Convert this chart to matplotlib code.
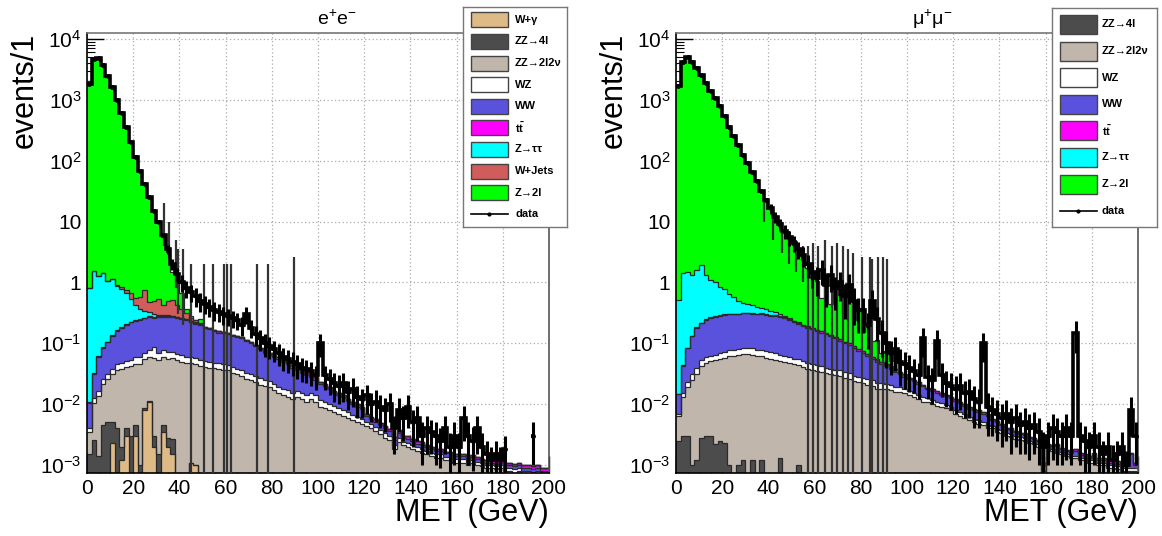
import numpy as np
import matplotlib
matplotlib.use("Agg")
import matplotlib.pyplot as plt
from matplotlib.patches import Rectangle
from matplotlib.ticker import FixedLocator, MultipleLocator, LogLocator, NullFormatter

plt.rcParams['font.family'] = ['Liberation Sans', 'DejaVu Sans']
plt.rcParams['mathtext.fontset'] = 'custom'
plt.rcParams['mathtext.rm'] = 'Liberation Sans'
plt.rcParams['mathtext.it'] = 'Liberation Sans:italic'
plt.rcParams['mathtext.bf'] = 'Liberation Sans:bold'

# 2 GeV bins from 0 to 200
edges = np.arange(0, 202, 2)

# ---------------- e+e- channel ----------------
ee_wg = [0, 0, 0, 0, 0, 0.0023, 0, 0.0012, 0.003, 0,
         0.003, 0, 0.008, 0.011, 0.002, 0, 0.0035, 0.002, 0.0015, 0,
         0, 0, 0.0011, 0.001, 0, 0, 0, 0, 0, 0,
         0, 0, 0, 0, 0, 0, 0, 0, 0, 0,
         0, 0, 0, 0, 0, 0, 0, 0, 0, 0,
         0, 0, 0, 0, 0, 0, 0, 0, 0, 0,
         0, 0, 0, 0, 0, 0, 0, 0, 0, 0,
         0, 0, 0, 0, 0, 0, 0, 0, 0, 0,
         0, 0, 0, 0, 0, 0, 0, 0, 0, 0,
         0, 0, 0, 0, 0, 0, 0, 0, 0, 0]
ee_zz4l = [0.0015, 0.0026, 0.0014, 0.0045, 0.005, 0.0027, 0.004, 0.0008, 0.001, 0.003,
           0.0015, 0.001, 0.0005, 0.0003, 0.001, 0.0015, 0.001, 0.0008, 0.0012, 0.0005,
           0.0003, 0.0002, 0, 0, 0, 0, 0, 0, 0, 0,
           0, 0, 0, 0, 0, 0, 0, 0, 0, 0,
           0, 0, 0, 0, 0, 0, 0, 0, 0, 0,
           0, 0, 0, 0, 0, 0, 0, 0, 0, 0,
           0, 0, 0, 0, 0, 0, 0, 0, 0, 0,
           0, 0, 0, 0, 0, 0, 0, 0, 0, 0,
           0, 0, 0, 0, 0, 0, 0, 0, 0, 0,
           0, 0, 0, 0, 0, 0, 0, 0, 0, 0]
ee_zz2l2v = [0.002, 0.008, 0.012, 0.017, 0.021, 0.026, 0.032, 0.036, 0.037, 0.039,
             0.042, 0.044, 0.046, 0.049, 0.054, 0.052, 0.055, 0.053, 0.054, 0.052,
             0.049, 0.047, 0.046, 0.044, 0.043, 0.041, 0.04, 0.039, 0.038, 0.037,
             0.036, 0.033, 0.031, 0.029, 0.026, 0.025, 0.023, 0.021, 0.02, 0.019,
             0.017, 0.015, 0.014, 0.013, 0.012, 0.013, 0.012, 0.011, 0.012, 0.011,
             0.009, 0.0085, 0.008, 0.0075, 0.007, 0.0065, 0.006, 0.0055, 0.005, 0.0047,
             0.0043, 0.004, 0.0036, 0.0032, 0.0028, 0.0026, 0.0018, 0.0024, 0.0021, 0.002,
             0.0018, 0.0017, 0.0016, 0.0015, 0.0014, 0.0013, 0.0013, 0.0012, 0.0012, 0.0011,
             0.0011, 0.0011, 0.001, 0.0011, 0.001, 0.00095, 0.0009, 0.0009, 0.00085, 0.0009,
             0.0008, 0.0008, 0.00075, 0.0008, 0.0007, 0.0007, 0.00065, 0.0007, 0.0006, 0.0006]
ee_wz = [0.0005, 0.002, 0.003, 0.004, 0.005, 0.007, 0.009, 0.01, 0.011, 0.012,
         0.013, 0.014, 0.015, 0.016, 0.03, 0.016, 0.017, 0.016, 0.016, 0.015,
         0.014, 0.013, 0.012, 0.012, 0.011, 0.01, 0.01, 0.009, 0.009, 0.008,
         0.008, 0.0075, 0.007, 0.007, 0.0065, 0.006, 0.006, 0.0055, 0.005, 0.005,
         0.0045, 0.0045, 0.004, 0.004, 0.0035, 0.0035, 0.0035, 0.003, 0.003, 0.003,
         0.0026, 0.0024, 0.0022, 0.002, 0.0018, 0.0016, 0.0014, 0.0012, 0.0011, 0.001,
         0.0008, 0.0007, 0.0006, 0.0005, 0.0005, 0.0004, 0.0003, 0.0004, 0.0003, 0.0003,
         0.0003, 0.00025, 0.00025, 0.0002, 0.0002, 0.0002, 0.0002, 0.00015, 0.00015, 0.00015,
         0.00015, 0.00015, 0.00012, 0.00012, 0.00012, 0.00012, 0.0001, 0.0001, 0.0001, 0.0001,
         0.0001, 0.0001, 0.0001, 0.0001, 0.0001, 0.0001, 0.0001, 0.0001, 0.0001, 0.0001]
ee_ww = [0.0065, 0.019, 0.044, 0.058, 0.073, 0.096, 0.117, 0.133, 0.151, 0.168,
         0.174, 0.181, 0.188, 0.194, 0.175, 0.2, 0.197, 0.2, 0.2, 0.192,
         0.186, 0.179, 0.161, 0.153, 0.146, 0.128, 0.12, 0.112, 0.103, 0.1,
         0.096, 0.09, 0.087, 0.084, 0.077, 0.069, 0.061, 0.0535, 0.045, 0.041,
         0.0385, 0.0355, 0.032, 0.028, 0.0245, 0.0195, 0.0175, 0.016, 0.013, 0.011,
         0.01, 0.009, 0.0074, 0.006, 0.0056, 0.005, 0.0038, 0.0035, 0.003, 0.0025,
         0.0012, 0.001, 0.0009, 0.0008, 0.0007, 0.0006, 0.0005, 0.0006, 0.0004, 0.0004,
         0.0004, 0.0003, 0.0003, 0.0003, 0.00025, 0.0002, 0.0002, 0.0002, 0.0002, 0.00015,
         0.00015, 0.00015, 0.00012, 0.00012, 0.00012, 0.0001, 0.0001, 0.0001, 0.0001, 0.0001,
         0.0001, 0.0001, 0.0001, 0.0001, 0.0001, 0.0001, 0.0001, 0.0001, 0.0001, 0.0001]
ee_tt = [0.0003, 0.0008, 0.0015, 0.002, 0.0025, 0.003, 0.0035, 0.004, 0.0045, 0.005,
         0.0055, 0.006, 0.0065, 0.007, 0.007, 0.0075, 0.008, 0.008, 0.008, 0.008,
         0.008, 0.008, 0.0078, 0.0076, 0.0074, 0.0072, 0.007, 0.0068, 0.0066, 0.0064,
         0.0062, 0.006, 0.0058, 0.0056, 0.0054, 0.0052, 0.005, 0.0048, 0.0046, 0.0044,
         0.0042, 0.004, 0.0038, 0.0036, 0.0034, 0.0032, 0.003, 0.0029, 0.0028, 0.0027,
         0.0015, 0.0014, 0.0013, 0.0012, 0.0011, 0.001, 0.0009, 0.0008, 0.0008, 0.0007,
         0.0006, 0.0005, 0.0005, 0.0004, 0.0004, 0.0003, 0.0003, 0.0003, 0.00025, 0.00025,
         0.0002, 0.0002, 0.0002, 0.00015, 0.00015, 0.00015, 0.0001, 0.0001, 0.0001, 0.0001,
         0.0001, 0.0001, 0.0001, 0.0001, 0.0001, 0.0001, 0.0001, 0.0001, 0.0001, 0.0001,
         0.0001, 0.0001, 0.0001, 0.0001, 0.0001, 0.0001, 0.0001, 0.0001, 0.0001, 0.0001]
ee_ztt = [0.8, 1.5, 1.2, 1.35, 0.95, 1.0, 0.7, 0.6, 0.45, 0.3,
          0.19, 0.12, 0.08, 0.045, 0.035, 0.015, 0.01, 0.008, 0.005, 0.004,
          0.003, 0.003, 0.002, 0.002, 0.0015, 0.001, 0.001, 0.0008, 0.0006, 0.0005,
          0.0003, 0.0003, 0.0002, 0.0002, 0, 0, 0, 0, 0, 0,
          0, 0, 0, 0, 0, 0, 0, 0, 0, 0,
          0, 0, 0, 0, 0, 0, 0, 0, 0, 0,
          0, 0, 0, 0, 0, 0, 0, 0, 0, 0,
          0, 0, 0, 0, 0, 0, 0, 0, 0, 0,
          0, 0, 0, 0, 0, 0, 0, 0, 0, 0,
          0, 0, 0, 0, 0, 0, 0, 0, 0, 0]
ee_wjets = [0, 0, 0, 0, 0, 0, 0.03, 0.06, 0.1, 0.15,
            0.12, 0.2, 0.4, 0.15, 0.2, 0.25, 0.14, 0.2, 0.22, 0.15,
            0.1, 0.06, 0.03, 0.02, 0.01, 0, 0, 0, 0, 0,
            0, 0, 0, 0, 0, 0, 0, 0, 0, 0,
            0, 0, 0, 0, 0, 0, 0, 0, 0, 0,
            0, 0, 0, 0, 0, 0, 0, 0, 0, 0,
            0, 0, 0, 0, 0, 0, 0, 0, 0, 0,
            0, 0, 0, 0, 0, 0, 0, 0, 0, 0,
            0, 0, 0, 0, 0, 0, 0, 0, 0, 0,
            0, 0, 0, 0, 0, 0, 0, 0, 0, 0]
ee_zll = [2000, 4500, 4800, 3600, 2400, 1600, 1000, 600, 355, 200,
          112, 66, 40, 24, 14.3, 8.9, 5.1, 2.7, 1.0, 0.6,
          0.3, 0.06, 0.02, 0, 0.03, 0, 0, 0, 0, 0,
          0, 0, 0, 0, 0, 0, 0, 0, 0, 0,
          0, 0, 0, 0, 0, 0, 0, 0, 0, 0,
          0, 0, 0, 0, 0, 0, 0, 0, 0, 0,
          0, 0, 0, 0, 0, 0, 0, 0, 0, 0,
          0, 0, 0, 0, 0, 0, 0, 0, 0, 0,
          0, 0, 0, 0, 0, 0, 0, 0, 0, 0,
          0, 0, 0, 0, 0, 0, 0, 0, 0, 0]
ee_data = [1800, 4600, 4900, 3700, 2450, 1620, 1010, 610, 360, 205,
           115, 68, 42, 25, 15, 10, 6, 3.5, 2.0, 1.4,
           1.0, 0.8, 0.7, 0.6, 0.5, 0.45, 0.4, 0.35, 0.33, 0.3,
           0.28, 0.26, 0.24, 0.2, 0.3, 0.18, 0.14, 0.12, 0.1, 0.09,
           0.08, 0.07, 0.06, 0.055, 0.05, 0.045, 0.04, 0.038, 0.035, 0.03,
           0.1, 0.03, 0.026, 0.022, 0.02, 0.022, 0.016, 0.018, 0.013, 0.012,
           0.014, 0.01, 0.011, 0.009, 0.008, 0.01, 0.004, 0.008, 0.006, 0.009,
           0.005, 0.006, 0.003, 0.004, 0.0035, 0.003, 0.0025, 0.004, 0.002, 0.003,
           0.002, 0.006, 0.003, 0.0025, 0.004, 0.002, 0.0015, 0.0012, 0.0015, 0.0012,
           0.0018, 0, 0, 0, 0, 0, 0.003, 0, 0, 0]
ee_data_err = [0, 0, 0, 0, 0, 0, 0, 0, 0, 0,
               0, 0, 0, 0, 0, 0, 0, 0.6, 0.4, 0.35,
               0.3, 0.25, 0.22, 0.2, 0.17, 0.15, 0.13, 0.12, 0.11, 0.1,
               0.09, 0.08, 0.075, 0.07, 0.09, 0.06, 0.05, 0.045, 0.04, 0.035,
               0.03, 0.028, 0.025, 0.023, 0.021, 0.019, 0.017, 0.016, 0.015, 0.013,
               0.04, 0.013, 0.012, 0.011, 0.01, 0.011, 0.008, 0.009, 0.007, 0.006,
               0.007, 0.005, 0.006, 0.005, 0.0045, 0.005, 0.0025, 0.0045, 0.0035, 0.005,
               0.003, 0.0035, 0.002, 0.0025, 0.002, 0.002, 0.0016, 0.0025, 0.0014, 0.002,
               0.0014, 0.0035, 0.002, 0.0017, 0.0025, 0.0014, 0.001, 0.0008, 0.001, 0.0008,
               0.0012, 0, 0, 0, 0, 0, 0.002, 0, 0, 0]
# large error bars of sparse data bins (MET, low, high)
ee_err_x = [33.5, 35.5, 38.5, 39.5, 41.5, 45, 50.5, 54.5, 59.5, 60.5, 62.5, 73.5, 78.5, 89.5]
ee_err_lo = [4, 2.5, 0.8, 0.3, 0.2, 1e-5, 1e-5, 1e-5, 1e-5, 1e-5, 1e-5, 1e-5, 1e-5, 1e-5]
ee_err_hi = [20, 10, 5, 3.5, 3.5, 2, 2, 2, 2, 2, 2, 2, 2, 2.6]

# ---------------- mu+mu- channel ----------------
mm_zz4l = [0.0025, 0.003, 0.003, 0.001, 0.0012, 0.0028, 0.003, 0.003, 0.0022, 0.0025,
           0.0023, 0.001, 0, 0.001, 0.0012, 0, 0.0012, 0, 0.0012, 0,
           0, 0, 0.0013, 0, 0, 0, 0.001, 0, 0, 0,
           0, 0, 0, 0, 0, 0, 0, 0, 0, 0,
           0, 0, 0, 0, 0, 0, 0, 0, 0, 0,
           0, 0, 0, 0, 0, 0, 0, 0, 0, 0,
           0, 0, 0, 0, 0, 0, 0, 0, 0, 0,
           0, 0, 0, 0, 0, 0, 0, 0, 0, 0,
           0, 0, 0, 0, 0, 0, 0, 0, 0, 0,
           0, 0, 0, 0, 0, 0, 0, 0, 0, 0]
mm_zz2l2v = [0.004, 0.01, 0.016, 0.024, 0.03, 0.04, 0.045, 0.048, 0.05, 0.052,
             0.055, 0.06, 0.062, 0.063, 0.065, 0.066, 0.064, 0.062, 0.06, 0.058,
             0.056, 0.054, 0.05, 0.049, 0.047, 0.045, 0.043, 0.041, 0.038, 0.036,
             0.035, 0.034, 0.032, 0.031, 0.03, 0.029, 0.027, 0.026, 0.024, 0.023,
             0.022, 0.021, 0.02, 0.018, 0.018, 0.018, 0.017, 0.016, 0.016, 0.015,
             0.014, 0.013, 0.012, 0.011, 0.011, 0.01, 0.0095, 0.009, 0.0085, 0.008,
             0.007, 0.0065, 0.006, 0.0055, 0.005, 0.0048, 0.0045, 0.004, 0.004, 0.0035,
             0.0033, 0.003, 0.0029, 0.0027, 0.0026, 0.0025, 0.0023, 0.0022, 0.002, 0.0007,
             0.0018, 0.0017, 0.0016, 0.0015, 0.0014, 0.0013, 0.0013, 0.0012, 0.0012, 0.0011,
             0.0011, 0.001, 0.001, 0.0009, 0.0009, 0.00085, 0.0008, 0.0008, 0.0008, 0.0008]
mm_wz = [0.0005, 0.002, 0.004, 0.006, 0.008, 0.01, 0.011, 0.012, 0.013, 0.014,
         0.015, 0.016, 0.017, 0.017, 0.018, 0.018, 0.017, 0.017, 0.016, 0.016,
         0.015, 0.014, 0.013, 0.013, 0.012, 0.011, 0.011, 0.01, 0.01, 0.009,
         0.009, 0.0085, 0.008, 0.0075, 0.007, 0.0068, 0.0065, 0.006, 0.0055, 0.005,
         0.005, 0.0045, 0.0045, 0.004, 0.004, 0.0038, 0.0035, 0.0033, 0.003, 0.003,
         0.0026, 0.0024, 0.0022, 0.002, 0.0018, 0.0016, 0.0014, 0.0013, 0.0012, 0.0011,
         0.001, 0.0009, 0.0008, 0.0007, 0.0006, 0.0006, 0.0005, 0.0005, 0.0004, 0.0004,
         0.0004, 0.0003, 0.0003, 0.0003, 0.00025, 0.00025, 0.0002, 0.0002, 0.0002, 0.0001,
         0.00015, 0.00015, 0.00015, 0.00012, 0.00012, 0.00012, 0.0001, 0.0001, 0.0001, 0.0001,
         0.0001, 0.0001, 0.0001, 0.0001, 0.0001, 0.0001, 0.0001, 0.0001, 0.0001, 0.0001]
mm_ww = [0.0075, 0.028, 0.06, 0.1, 0.142, 0.16, 0.184, 0.2, 0.207, 0.214,
         0.22, 0.224, 0.221, 0.22, 0.227, 0.226, 0.219, 0.221, 0.224, 0.216,
         0.209, 0.212, 0.207, 0.198, 0.181, 0.164, 0.156, 0.139, 0.132, 0.125,
         0.116, 0.1075, 0.1, 0.0915, 0.083, 0.074, 0.0665, 0.063, 0.0555, 0.047,
         0.043, 0.0365, 0.0305, 0.028, 0.024, 0.0202, 0.0175, 0.0147, 0.012, 0.01,
         0.0092, 0.0084, 0.0075, 0.0066, 0.0047, 0.0048, 0.0045, 0.0041, 0.0037, 0.0033,
         0.0034, 0.003, 0.0026, 0.0022, 0.0023, 0.0021, 0.002, 0.002, 0.0011, 0.0011,
         0.0008, 0.0006, 0.0006, 0.0005, 0.0004, 0.0004, 0.0003, 0.0003, 0.0003, 0.0002,
         0.0002, 0.0002, 0.0004, 0.0002, 0.00015, 0.00015, 0.0003, 0.00015, 0.0001, 0.0001,
         0.0003, 0.0001, 0.0001, 0.0001, 0.0001, 0.0001, 0.0001, 0.0001, 0.0006, 0.0001]
mm_tt = [0.0003, 0.001, 0.002, 0.0025, 0.003, 0.0035, 0.004, 0.0045, 0.005, 0.0055,
         0.006, 0.0065, 0.007, 0.0075, 0.008, 0.008, 0.0085, 0.0085, 0.009, 0.009,
         0.009, 0.009, 0.0088, 0.0086, 0.0084, 0.0082, 0.008, 0.0078, 0.0075, 0.0072,
         0.007, 0.0068, 0.0065, 0.0062, 0.006, 0.0058, 0.0055, 0.0052, 0.005, 0.0048,
         0.0046, 0.0044, 0.0042, 0.004, 0.0038, 0.0036, 0.0034, 0.0032, 0.003, 0.0029,
         0.0016, 0.0015, 0.0014, 0.0013, 0.0012, 0.0011, 0.001, 0.0009, 0.0009, 0.0008,
         0.0007, 0.0006, 0.0006, 0.0005, 0.0005, 0.0004, 0.0004, 0.0003, 0.0003, 0.0003,
         0.0002, 0.0002, 0.0002, 0.00015, 0.00015, 0.00015, 0.0001, 0.0001, 0.0001, 0.0001,
         0.0001, 0.0001, 0.0001, 0.0001, 0.0001, 0.0001, 0.0001, 0.0001, 0.0001, 0.0001,
         0.0001, 0.0001, 0.0001, 0.0001, 0.0001, 0.0001, 0.0001, 0.0001, 0.0001, 0.0001]
mm_ztt = [0.49, 1.36, 1.42, 1.17, 1.42, 1.69, 1.06, 0.84, 0.72, 0.56,
          0.48, 0.34, 0.27, 0.19, 0.14, 0.12, 0.11, 0.09, 0.07, 0.06,
          0.05, 0.035, 0.025, 0.015, 0.01, 0.006, 0.004, 0.003, 0.002, 0.002,
          0.001, 0.0008, 0.0006, 0.0005, 0.0005, 0.0004, 0.0004, 0.0003, 0.0003, 0.0003,
          0.0002, 0.0002, 0.0002, 0.0002, 0.0002, 0.0002, 0.0002, 0, 0, 0,
          0, 0, 0, 0, 0, 0, 0, 0, 0, 0,
          0, 0, 0, 0, 0, 0, 0, 0, 0, 0,
          0, 0, 0, 0, 0, 0, 0, 0, 0, 0,
          0, 0, 0, 0, 0, 0, 0, 0, 0, 0,
          0, 0, 0, 0, 0, 0, 0, 0, 0, 0]
mm_zll = [1780, 4170, 4900, 4170, 3310, 2510, 1905, 1410, 1070, 794,
          537, 355, 251, 178, 120, 89, 63, 44, 31, 22,
          15.5, 10.9, 8.2, 6.3, 4.9, 3.9, 2.95, 2.15, 1.55, 1.0,
          0.9, 0.4, 1.0, 0.3, 0.7, 0.5, 0.2, 0.5, 0.15, 0.3,
          0.08, 0.12, 0.05, 0.06, 0.02, 0.03, 0.01, 0.04, 0, 0,
          0, 0, 0, 0, 0, 0, 0, 0, 0, 0,
          0, 0, 0, 0, 0, 0, 0, 0, 0, 0,
          0, 0, 0, 0, 0, 0, 0, 0, 0, 0,
          0, 0, 0, 0, 0, 0, 0, 0, 0, 0,
          0, 0, 0, 0, 0, 0, 0, 0, 0, 0]
mm_data = [1700, 4200, 4950, 4200, 3350, 2530, 1920, 1420, 1080, 800,
           540, 360, 250, 180, 122, 90, 65, 46, 32, 23,
           16.5, 12, 9, 7, 5.5, 4.5, 3.5, 2.8, 2.0, 1.5,
           1.2, 1.6, 0.9, 1.3, 0.8, 1.0, 0.6, 0.9, 0.5, 0.35,
           0.35, 0.2, 0.5, 0.25, 0.15, 0.1, 0.07, 0.08, 0.05, 0.045,
           0.04, 0.035, 0.03, 0.12, 0.028, 0.025, 0.11, 0.03, 0.022, 0.02,
           0.018, 0.02, 0.015, 0.016, 0.012, 0.011, 0.1, 0.009, 0.008, 0.007,
           0.006, 0.007, 0.005, 0.006, 0.0045, 0.005, 0.004, 0.0045, 0.0035, 0.002,
           0.003, 0.004, 0.0035, 0.003, 0.004, 0.003, 0.15, 0.003, 0.0025, 0.002,
           0.003, 0.002, 0.0015, 0.002, 0.0012, 0.0015, 0.002, 0.001, 0.008, 0.003]
mm_data_err = [0, 0, 0, 0, 0, 0, 0, 0, 0, 0,
               0, 0, 0, 0, 0, 0, 0, 0, 0, 0,
               3, 2.5, 2, 1.8, 1.5, 1.3, 1.1, 1.0, 0.8, 0.7,
               0.6, 0.7, 0.5, 0.6, 0.45, 0.5, 0.35, 0.45, 0.3, 0.2,
               0.2, 0.12, 0.25, 0.14, 0.09, 0.06, 0.04, 0.045, 0.03, 0.027,
               0.024, 0.02, 0.018, 0.06, 0.016, 0.015, 0.055, 0.017, 0.013, 0.012,
               0.011, 0.012, 0.009, 0.01, 0.008, 0.007, 0.05, 0.006, 0.005, 0.0045,
               0.004, 0.0045, 0.0035, 0.004, 0.003, 0.0035, 0.0028, 0.003, 0.0025, 0.0015,
               0.002, 0.0028, 0.0025, 0.002, 0.0028, 0.002, 0.08, 0.002, 0.0018, 0.0015,
               0.002, 0.0015, 0.001, 0.0015, 0.0009, 0.001, 0.0015, 0.0007, 0.005, 0.002]
mm_err_x = [38, 42, 46, 49, 52, 55, 57, 59.3, 61.5, 64.5, 67.5, 69.7, 72.3, 74.5,
            76.6, 80.5, 84, 85, 87.5, 89.6, 91.3]
mm_err_lo = [10, 5, 3, 2, 1.5, 1, 1e-5, 1e-5, 1e-5, 1e-5, 1e-5, 1e-5, 1e-5, 1e-5,
             1e-5, 1e-5, 1e-5, 1e-5, 1e-5, 1e-5, 1e-5]
mm_err_hi = [25, 15, 10, 7, 5, 4, 4, 4.5, 4, 5, 4, 4.5, 4, 3.5,
             3, 2.6, 2.6, 2.4, 2.6, 2.6, 2.4]

# styles per process
COL = {'W+γ': '#deba87', 'ZZ→4l': '#4c4c4c', 'ZZ→2l2ν': '#c0b6ac', 'WZ': '#ffffff',
       'WW': '#5a52dc', 'tt': '#ff00ff', 'Z→ττ': '#00ffff', 'W+Jets': '#d05c5c',
       'Z→2l': '#00ff00'}
LABEL = {'tt': r'$\mathbf{t\bar{t}}$'}

W, H = 1162, 536
fig = plt.figure(figsize=(W / 100, H / 100), dpi=100)


def draw_panel(left_px, comps, names, data, derr, ex, elo, ehi):
    ax = fig.add_axes([left_px / W, 1 - 473 / H, 462 / W, 440 / H])
    ax.set_axisbelow(True)
    cum = np.cumsum(np.array(comps, dtype=float), axis=0)
    # draw from the top of the stack down so lower ones sit in front
    for k in range(len(comps) - 1, -1, -1):
        top = np.where(cum[k] > 0, cum[k], 1e-6)
        ax.stairs(top, edges, baseline=1e-6, fill=True, color=COL[names[k]], lw=0, zorder=2)
        ax.stairs(top, edges, baseline=None, color='#2a2a2a', lw=0.9, zorder=2.1)
    d = np.array(data, dtype=float)
    e = np.array(derr, dtype=float)
    d[d <= 0] = np.nan
    centers = 0.5 * (edges[:-1] + edges[1:])
    ax.vlines(ex, elo, ehi, color='#333333', lw=1.6, zorder=3)
    ax.vlines(centers, np.clip(d - e, 1e-5, None), d + e, color='black', lw=2.2, zorder=4)
    ax.stairs(d, edges, baseline=None, color='black', lw=2.6, zorder=4)
    ax.plot(centers, d, 'o', color='black', ms=2.5, zorder=4)

    ax.set_yscale('log')
    ax.set_xlim(0, 200)
    ax.set_ylim(7.4e-4, 1.25e4)
    ax.yaxis.set_major_locator(FixedLocator([1e-3, 1e-2, 1e-1, 1, 10, 1e2, 1e3, 1e4]))
    ax.set_yticklabels([r'$10^{-3}$', r'$10^{-2}$', r'$10^{-1}$', '1', '10',
                        r'$10^{2}$', r'$10^{3}$', r'$10^{4}$'])
    ax.yaxis.set_minor_locator(LogLocator(base=10, subs=np.arange(2, 10)))
    ax.yaxis.set_minor_formatter(NullFormatter())
    ax.xaxis.set_major_locator(MultipleLocator(20))
    ax.xaxis.set_minor_locator(MultipleLocator(5))
    ax.tick_params(which='both', direction='in', top=False, right=False, labelsize=15)
    ax.tick_params(which='major', length=12, width=1, pad=4)
    ax.tick_params(which='minor', length=6, width=0.8)
    ax.grid(True, which='major', linestyle=(0, (1, 2)), color='#aaaaaa', lw=0.9)
    for s in ax.spines.values():
        s.set_color('black')
        s.set_linewidth(1.2)
    ax.spines['top'].set_color('#777777')
    ax.spines['right'].set_color('#555555')
    return ax


def draw_legend(box, names, row_h, sw_h, text_x):
    x0, y0, x1, y1 = box
    lax = fig.add_axes([x0 / W, 1 - y1 / H, (x1 - x0) / W, (y1 - y0) / H], zorder=10)
    lax.set_xlim(x0, x1)
    lax.set_ylim(y1, y0)
    lax.set_xticks([])
    lax.set_yticks([])
    for s in lax.spines.values():
        s.set_color('#777777')
        s.set_linewidth(1)
    n = len(names) + 1
    top = y0 + (y1 - y0 - n * row_h) / 2
    for i, nm in enumerate(names + ['data']):
        yc = top + (i + 0.5) * row_h
        if nm == 'data':
            lax.plot([x0 + 8, x0 + 45], [yc, yc], color='black', lw=1.2)
            lax.plot([x0 + 26.5], [yc], 'o', color='black', ms=2)
        else:
            lax.add_patch(Rectangle((x0 + 8, yc - sw_h / 2), 37, sw_h,
                                    facecolor=COL[nm], edgecolor='#444444', lw=1))
        lax.text(text_x, yc, LABEL.get(nm, nm), ha='left', va='center',
                 fontsize=8, fontweight='bold', clip_on=False)


ee_names = ['W+γ', 'ZZ→4l', 'ZZ→2l2ν', 'WZ', 'WW', 'tt', 'Z→ττ', 'W+Jets', 'Z→2l']
mm_names = ['ZZ→4l', 'ZZ→2l2ν', 'WZ', 'WW', 'tt', 'Z→ττ', 'Z→2l']

draw_panel(87, [ee_wg, ee_zz4l, ee_zz2l2v, ee_wz, ee_ww, ee_tt, ee_ztt, ee_wjets, ee_zll],
           ee_names, ee_data, ee_data_err, ee_err_x, ee_err_lo, ee_err_hi)
draw_panel(676, [mm_zz4l, mm_zz2l2v, mm_wz, mm_ww, mm_tt, mm_ztt, mm_zll],
           mm_names, mm_data, mm_data_err, mm_err_x, mm_err_lo, mm_err_hi)

draw_legend((463, 7, 567, 227), ee_names, 21.6, 15, 515)
draw_legend((1052, 8, 1157, 227), mm_names, 26.6, 19, 1102)

# titles and axis titles
fig.text(337 / W, 1 - 19 / H, r'e$^{+}$e$^{-}$', ha='center', va='center', fontsize=14)
fig.text(932 / W, 1 - 19 / H, r'μ$^{+}$μ$^{-}$', ha='center', va='center', fontsize=14)
for xl, yl in [(25, 549), (614, 1138)]:
    fig.text(xl / W, 1 - 33 / H, 'events/1', rotation=90, ha='center', va='top', fontsize=22)
    fig.text(yl / W, 1 - 513 / H, 'MET (GeV)', ha='right', va='center', fontsize=22)

fig.savefig('out.png', dpi=100)
